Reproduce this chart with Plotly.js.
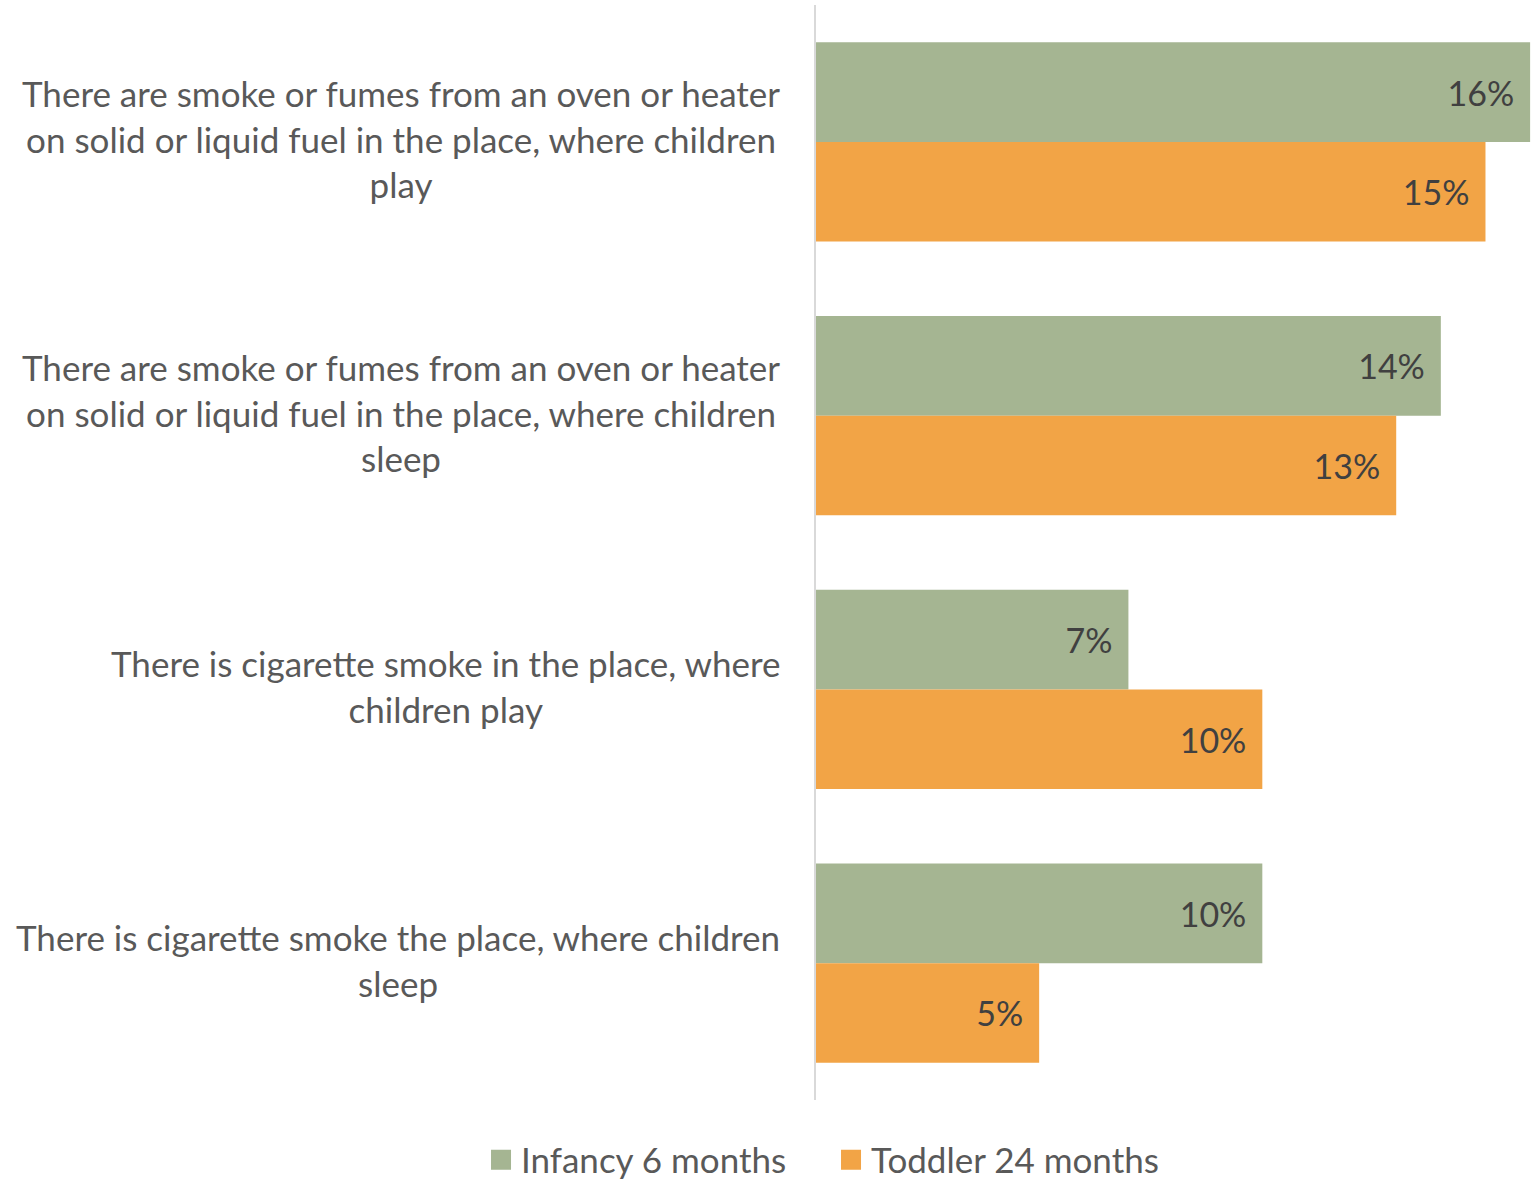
<!DOCTYPE html>
<html>
<head>
<meta charset="utf-8">
<script src="https://cdn.plot.ly/plotly-3.0.1.min.js"></script>
<style>html,body{margin:0;padding:0;background:#fff;}#chart{width:1537px;height:1182px;}</style>
</head>
<body>
<div id="chart"></div>
<script>
const categories = [
  "There are smoke or fumes from an oven or heater<br>on solid or liquid fuel in the place, where children<br>play",
  "There are smoke or fumes from an oven or heater<br>on solid or liquid fuel in the place, where children<br>sleep",
  "There is cigarette smoke in the place, where<br>children play",
  "There is cigarette smoke the place, where children<br>sleep"
];
const seriesNames = ["Infancy 6 months", "Toddler 24 months"];
const infancy = [16, 14, 7, 10];
const toddler = [15, 13, 10, 5];
const colors = ["#A5B592", "#F2A446"];

const FONT = "Lato, 'Open Sans', sans-serif";
const pad = "\u00a0\u2009";

function makeTrace(name, vals, color) {
  return {
    type: "bar",
    orientation: "h",
    name: name,
    y: categories,
    x: vals,
    text: vals.map(v => v + "%" + pad),
    textposition: "inside",
    insidetextanchor: "end",
    textfont: {family: FONT, size: 34, color: "#404040"},
    marker: {color: color, line: {width: 0}},
    hoverinfo: "x+name"
  };
}

const data = [
  makeTrace(seriesNames[0], infancy, colors[0]),
  makeTrace(seriesNames[1], toddler, colors[1])
];

const annotations = categories.map((c, i) => ({
  xref: "paper", yref: "y",
  x: -0.047, y: i,
  xanchor: "right", yanchor: "middle",
  yshift: 3,
  align: "center",
  showarrow: false,
  text: c,
  font: {family: FONT, size: 35, color: "#595959"}
}));

const layout = {
  width: 1537, height: 1182,
  margin: {l: 816, r: 6, t: 5, b: 82, autoexpand: false},
  paper_bgcolor: "#fff", plot_bgcolor: "#fff",
  barmode: "group",
  bargap: 0.273,
  bargroupgap: 0,
  showlegend: true,
  legend: {
    orientation: "h",
    x: -0.4685, xanchor: "left",
    y: -0.0548, yanchor: "middle",
    font: {family: FONT, size: 35, color: "#595959"},
    entrywidth: 305,
    bgcolor: "rgba(0,0,0,0)"
  },
  xaxis: {
    range: [0, 16.02],
    showgrid: false, zeroline: false, showticklabels: false, showline: false, ticks: ""
  },
  yaxis: {
    type: "category",
    categoryorder: "array", categoryarray: categories,
    range: [3.5, -0.5],
    showticklabels: false, showgrid: false, zeroline: false,
    showline: true, linecolor: "#d9d9d9", linewidth: 2, ticks: ""
  },
  annotations: annotations
};

Plotly.newPlot("chart", data, layout, {displayModeBar: false, staticPlot: true}).then(() => {
  document.querySelectorAll("#chart .legendpoints path").forEach(p => {
    p.setAttribute("d", "M10,10H-10V-10H10Z");
  });
});
</script>
</body>
</html>
